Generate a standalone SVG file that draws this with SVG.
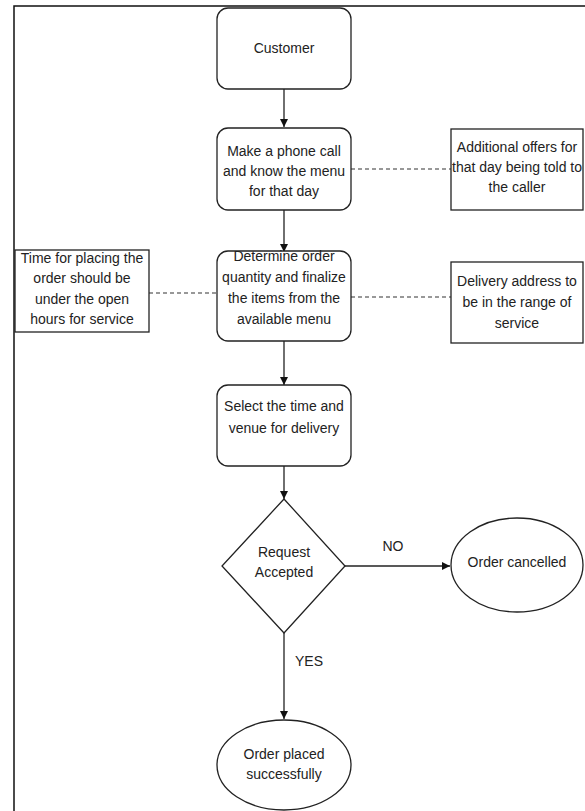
<svg xmlns="http://www.w3.org/2000/svg" width="585" height="811" viewBox="0 0 585 811">
<defs>
<marker id="arr" viewBox="0 0 10 10" refX="10" refY="5" markerWidth="8" markerHeight="8" markerUnits="userSpaceOnUse" orient="auto">
<path d="M0,0 L10,5 L0,10 z" fill="#111"/>
</marker>
<style>
.box{fill:#fff;stroke:#222;stroke-width:1.3}
.ln{fill:none;stroke:#222;stroke-width:1.3}
.dash{fill:none;stroke:#333;stroke-width:1.2;stroke-dasharray:4 3}
text{font-family:"Liberation Sans",Arial,sans-serif;font-size:14px;fill:#222;text-anchor:middle}
</style>
</defs>
<rect width="585" height="811" fill="#fff"/>
<path d="M14,811 L14,6 L585,6" fill="none" stroke="#111" stroke-width="1.5"/>
<g id="connectors">
<line class="ln" x1="284" y1="89" x2="284" y2="127" marker-end="url(#arr)"/>
<line class="ln" x1="284" y1="210" x2="284" y2="252" marker-end="url(#arr)"/>
<line class="ln" x1="284" y1="341" x2="284" y2="385" marker-end="url(#arr)"/>
<line class="ln" x1="284" y1="466" x2="284" y2="499" marker-end="url(#arr)"/>
<line class="ln" x1="345" y1="566" x2="450" y2="566" marker-end="url(#arr)"/>
<line class="ln" x1="284" y1="633" x2="284" y2="719" marker-end="url(#arr)"/>
<line class="dash" x1="351" y1="169" x2="451" y2="169"/>
<line class="dash" x1="149" y1="293" x2="217" y2="293"/>
<line class="dash" x1="351" y1="297" x2="451" y2="297"/>
<text x="393" y="551">NO</text>
<text x="309" y="666">YES</text>
</g>
<g id="customer">
<rect class="box" x="217" y="8" width="134" height="81" rx="11"/>
<text x="284" y="53">Customer</text>
</g>
<g id="phone">
<rect class="box" x="217" y="128" width="134" height="82" rx="11"/>
<text x="284" y="156">Make a phone call</text>
<text x="284" y="176">and know the menu</text>
<text x="284" y="196">for that day</text>
</g>
<g id="offers">
<rect class="box" x="451" y="129" width="132" height="81"/>
<text x="517" y="152">Additional offers for</text>
<text x="517" y="172">that day being told to</text>
<text x="517" y="192">the caller</text>
</g>
<g id="determine">
<rect class="box" x="217" y="251" width="134" height="90" rx="11"/>
<text x="284" y="261">Determine order</text>
<text x="284" y="282">quantity and finalize</text>
<text x="284" y="303">the items from the</text>
<text x="284" y="324">available menu</text>
</g>
<g id="time">
<rect class="box" x="15" y="250" width="134" height="82"/>
<text x="82" y="263">Time for placing the</text>
<text x="82" y="283">order should be</text>
<text x="82" y="304">under the open</text>
<text x="82" y="324">hours for service</text>
</g>
<g id="address">
<rect class="box" x="451" y="262" width="132" height="81"/>
<text x="517" y="286">Delivery address to</text>
<text x="517" y="307">be in the range of</text>
<text x="517" y="328">service</text>
</g>
<g id="select">
<rect class="box" x="217" y="385" width="134" height="81" rx="11"/>
<text x="284" y="411">Select the time and</text>
<text x="284" y="433">venue for delivery</text>
</g>
<g id="decision">
<polygon class="box" points="284,499 345,566 284,633 222,566"/>
<text x="284" y="557">Request</text>
<text x="284" y="577">Accepted</text>
</g>
<g id="cancelled">
<ellipse class="box" cx="517" cy="565" rx="66" ry="47"/>
<text x="517" y="567">Order cancelled</text>
</g>
<g id="placed">
<ellipse class="box" cx="284" cy="765" rx="67" ry="45"/>
<text x="284" y="759">Order placed</text>
<text x="284" y="779">successfully</text>
</g>
</svg>
